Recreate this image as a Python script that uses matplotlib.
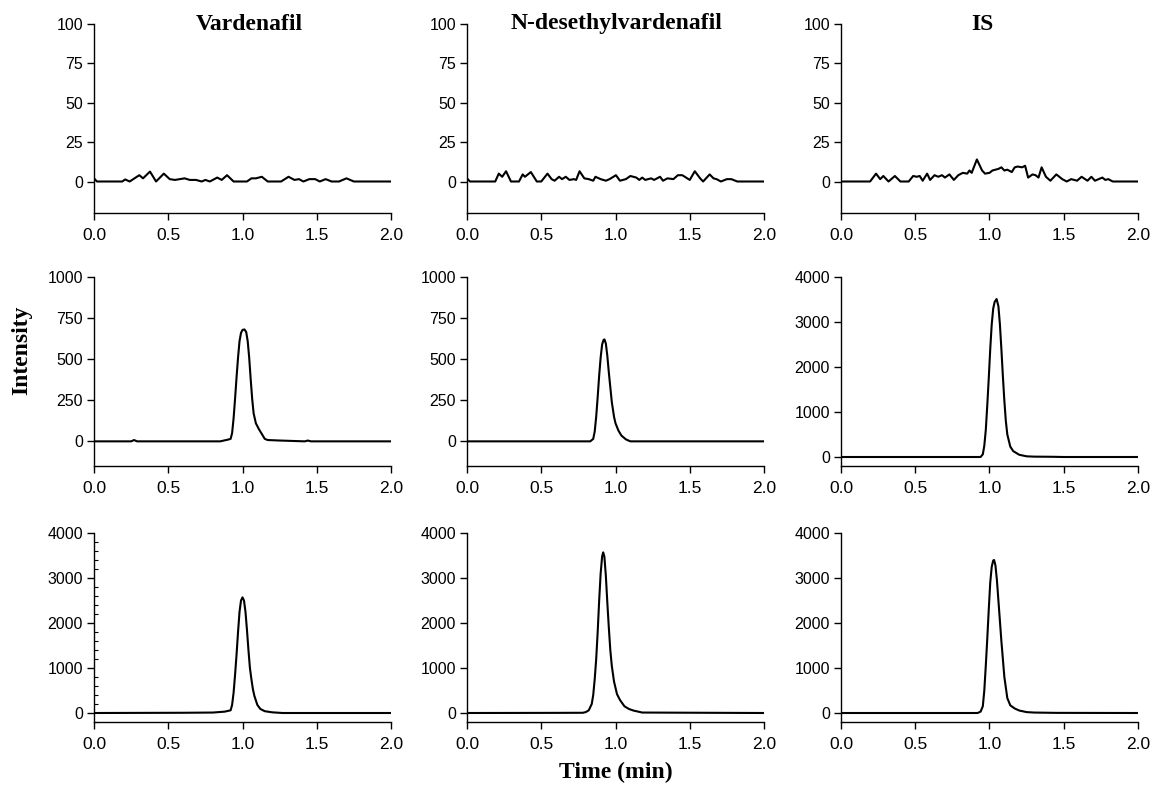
import matplotlib
matplotlib.use("Agg")
import matplotlib.pyplot as plt
from matplotlib.ticker import FormatStrFormatter, AutoMinorLocator

plt.rcParams['font.family'] = ['Liberation Sans', 'DejaVu Sans']

# column titles
titles = ["Vardenafil", "N-desethylvardenafil", "IS"]

# ---- row 1: blank plasma (noise only) ----
t_blank_v = [0, 0.02, 0.19, 0.21, 0.24, 0.305, 0.33, 0.377, 0.418, 0.47, 0.51, 0.545, 0.61, 0.645,
             0.687, 0.725, 0.75, 0.78, 0.83, 0.86, 0.896, 0.94, 1.03, 1.06, 1.09, 1.13, 1.17, 1.26,
             1.31, 1.35, 1.38, 1.41, 1.45, 1.49, 1.52, 1.56, 1.6, 1.65, 1.70, 1.75, 2.0]
y_blank_v = [2, 0, 0, 1.3, 0, 4, 2, 6.3, 0, 5, 1.5, 1, 2, 1,
             1, 0, 1, 0, 2.5, 1, 4, 0, 0, 2, 2, 3, 0, 0,
             3, 1, 1.5, 0, 1.5, 1.5, 0, 1.5, 0, 0, 2, 0, 0]

t_blank_d = [0, 0.02, 0.19, 0.214, 0.237, 0.263, 0.296, 0.35, 0.375, 0.39, 0.43, 0.47, 0.5, 0.542,
             0.57, 0.59, 0.62, 0.64, 0.665, 0.69, 0.72, 0.735, 0.758, 0.79, 0.82, 0.85, 0.865, 0.9,
             0.935, 0.96, 1.003, 1.03, 1.07, 1.1, 1.14, 1.16, 1.18, 1.2, 1.24, 1.26, 1.3, 1.32,
             1.35, 1.39, 1.42, 1.45, 1.5, 1.534, 1.57, 1.59, 1.634, 1.66, 1.68, 1.71, 1.75, 1.78,
             1.82, 2.0]
y_blank_d = [2, 0, 0, 5, 3, 6.5, 0, 0, 4.5, 3, 6, 0, 0, 5,
             1.5, 0.5, 3, 1.5, 3, 1, 1.5, 1, 6.5, 2, 1.5, 0.5, 3, 1.5,
             0.5, 1.5, 4, 0.5, 1.5, 3.5, 2.5, 1, 2.5, 1, 2, 1, 3, 0.5,
             2, 1.5, 4, 4, 1, 6.5, 2, 0, 4.5, 2, 1.5, 0, 1.5, 1.5,
             0, 0]

t_blank_is = [0, 0.196, 0.236, 0.264, 0.285, 0.32, 0.363, 0.4, 0.456, 0.486, 0.51, 0.53, 0.55, 0.58,
              0.6, 0.63, 0.655, 0.68, 0.7, 0.73, 0.76, 0.79, 0.82, 0.85, 0.865, 0.88, 0.915, 0.95,
              0.97, 1.0, 1.02, 1.06, 1.08, 1.1, 1.12, 1.15, 1.17, 1.19, 1.22, 1.24, 1.26, 1.29,
              1.31, 1.33, 1.351, 1.38, 1.41, 1.45, 1.49, 1.52, 1.55, 1.59, 1.62, 1.66, 1.686, 1.71,
              1.76, 1.78, 1.8, 1.83, 2.0]
y_blank_is = [0, 0, 5, 1.5, 3.5, 0, 3.5, 0, 0, 3.5, 3, 3.5, 0.5, 5,
              1, 4, 3, 4, 2.5, 4.5, 1, 4, 5.5, 5, 7, 5.5, 14, 7,
              5, 5.5, 7, 8, 9, 7, 7.5, 6, 9, 9.5, 9, 10, 2.5, 4.5,
              4, 2.5, 9, 3, 0.5, 4.5, 1.5, 0, 1.5, 0.5, 3, 0.5, 3, 0.5,
              2.5, 1, 1.5, 0, 0]

# ---- row 2: LLOQ-level sample ----
t_lloq_v = [0, 0.25, 0.27, 0.29, 0.85, 0.90, 0.92, 0.93, 0.94, 0.95, 0.96, 0.97, 0.98, 0.99, 1.00,
            1.013, 1.025, 1.035, 1.045, 1.055, 1.065, 1.075, 1.09, 1.11, 1.13, 1.15, 1.17, 1.25,
            1.42, 1.44, 1.46, 2.0]
y_lloq_v = [0, 0, 8, 0, 0, 10, 15, 50, 140, 260, 390, 510, 610, 660, 678,
            681, 665, 610, 510, 380, 260, 170, 110, 75, 45, 15, 8, 5,
            0, 5, 0, 0]

t_lloq_d = [0, 0.83, 0.85, 0.86, 0.87, 0.88, 0.89, 0.90, 0.91, 0.92, 0.926, 0.935, 0.945, 0.955,
            0.965, 0.975, 0.99, 1.00, 1.02, 1.04, 1.07, 1.10, 2.0]
y_lloq_d = [0, 0, 15, 60, 150, 270, 400, 510, 590, 618, 620, 595, 520, 420,
            330, 240, 150, 110, 65, 35, 12, 0, 0]

t_lloq_is = [0, 0.94, 0.955, 0.965, 0.975, 0.985, 0.995, 1.005, 1.015, 1.025, 1.035, 1.048, 1.06,
             1.07, 1.08, 1.09, 1.10, 1.11, 1.12, 1.14, 1.16, 1.20, 1.25, 1.30, 1.42, 1.5, 2.0]
y_lloq_is = [0, 0, 60, 250, 600, 1150, 1750, 2400, 2950, 3300, 3450, 3510, 3350,
             2950, 2400, 1800, 1250, 800, 500, 230, 130, 50, 15, 8, 5, 0, 0]

# ---- row 3: patient sample ----
t_pat_v = [0, 0.6, 0.8, 0.88, 0.92, 0.93, 0.94, 0.95, 0.96, 0.97, 0.98, 0.99, 1.0, 1.01, 1.02,
           1.03, 1.04, 1.05, 1.06, 1.07, 1.08, 1.10, 1.12, 1.15, 1.2, 1.27, 2.0]
y_pat_v = [0, 5, 10, 30, 60, 180, 450, 850, 1300, 1800, 2250, 2500, 2570, 2500, 2250,
           1850, 1400, 1000, 750, 530, 380, 180, 90, 40, 15, 0, 0]

t_pat_d = [0, 0.6, 0.78, 0.80, 0.82, 0.84, 0.85, 0.86, 0.87, 0.88, 0.89, 0.90, 0.91, 0.917, 0.925,
           0.935, 0.945, 0.955, 0.965, 0.975, 0.99, 1.01, 1.03, 1.06, 1.09, 1.12, 1.18, 2.0]
y_pat_d = [0, 3, 5, 20, 60, 200, 400, 750, 1200, 1800, 2500, 3100, 3480, 3570, 3480,
           3050, 2450, 1900, 1400, 1050, 700, 420, 290, 150, 90, 55, 10, 0]

t_pat_is = [0, 0.92, 0.94, 0.955, 0.965, 0.975, 0.985, 0.995, 1.005, 1.015, 1.025, 1.031, 1.04,
            1.05, 1.06, 1.07, 1.08, 1.09, 1.10, 1.12, 1.14, 1.17, 1.20, 1.25, 1.30, 1.45, 2.0]
y_pat_is = [0, 0, 30, 150, 500, 1050, 1650, 2300, 2900, 3250, 3390, 3400, 3280,
            2950, 2500, 2050, 1600, 1200, 800, 330, 170, 100, 55, 20, 10, 3, 0]

traces = [[(t_blank_v, y_blank_v), (t_blank_d, y_blank_d), (t_blank_is, y_blank_is)],
          [(t_lloq_v, y_lloq_v), (t_lloq_d, y_lloq_d), (t_lloq_is, y_lloq_is)],
          [(t_pat_v, y_pat_v), (t_pat_d, y_pat_d), (t_pat_is, y_pat_is)]]

# y ranges and ticks for each panel
ylims = [[(-20, 100)] * 3,
         [(-150, 1000), (-150, 1000), (-200, 4000)],
         [(-200, 4000)] * 3]
yticks = [[[0, 25, 50, 75, 100]] * 3,
          [[0, 250, 500, 750, 1000], [0, 250, 500, 750, 1000], [0, 1000, 2000, 3000, 4000]],
          [[0, 1000, 2000, 3000, 4000]] * 3]
xticks = [0.0, 0.5, 1.0, 1.5, 2.0]

W, H = 1154, 789
fig = plt.figure(figsize=(W / 100, H / 100), dpi=100)

lefts = [94, 467, 841]
bottoms = [213, 466, 722]
aw, ah = 297, 189

for r in range(3):
    for c in range(3):
        ax = fig.add_axes([lefts[c] / W, 1 - bottoms[r] / H, aw / W, ah / H])
        t, y = traces[r][c]
        ax.plot(t, y, color='black', lw=1.5, solid_joinstyle='round')
        ax.set_xlim(0, 2.0)
        ax.set_ylim(*ylims[r][c])
        ax.set_xticks(xticks)
        ax.set_yticks(yticks[r][c])
        ax.xaxis.set_major_formatter(FormatStrFormatter('%.1f'))
        ax.spines['right'].set_visible(False)
        ax.spines['top'].set_visible(False)
        ax.spines['left'].set_linewidth(1.0)
        ax.spines['bottom'].set_linewidth(1.0)
        ax.tick_params(axis='x', direction='out', length=5, width=1.0, labelsize=12.5, pad=6)
        ax.tick_params(axis='y', direction='out', length=5, width=1.0, labelsize=11.5, pad=3)
        if r == 2 and c == 0:
            ax.yaxis.set_minor_locator(AutoMinorLocator(5))
            ax.tick_params(axis='y', which='minor', direction='in', length=3, width=0.8)

# column titles
title_x = [249, 617, 982]
for c in range(3):
    fig.text(title_x[c] / W, 1 - 24 / H, titles[c], ha='center', va='center',
             family='Liberation Serif', fontweight='bold', fontsize=17)

fig.text(22 / W, 1 - 350 / H, 'Intensity', rotation=90, ha='center', va='center',
         family='Liberation Serif', fontweight='bold', fontsize=17)
fig.text(616 / W, 1 - 772 / H, 'Time (min)', ha='center', va='center',
         family='Liberation Serif', fontweight='bold', fontsize=17)

fig.savefig('out.png', dpi=100)
